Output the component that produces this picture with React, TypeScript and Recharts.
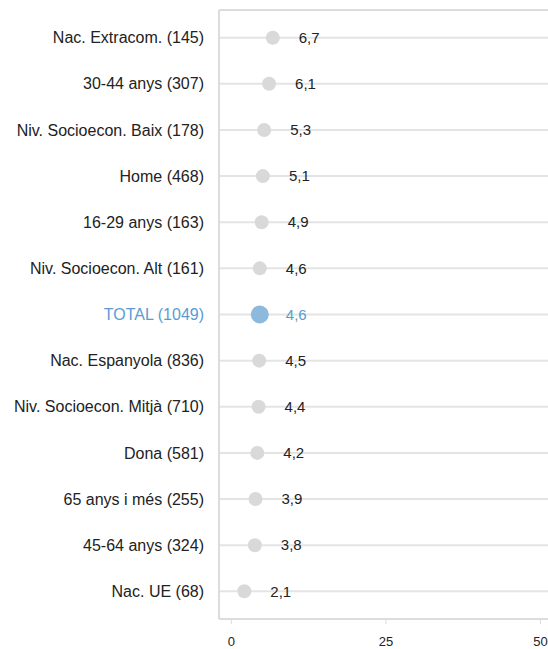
import React from "react";
import {
  ScatterChart,
  Scatter,
  XAxis,
  YAxis,
  CartesianGrid,
  ReferenceLine,
} from "recharts";

const categories = [
  "Nac. Extracom. (145)",
  "30-44 anys (307)",
  "Niv. Socioecon. Baix (178)",
  "Home (468)",
  "16-29 anys (163)",
  "Niv. Socioecon. Alt (161)",
  "TOTAL (1049)",
  "Nac. Espanyola (836)",
  "Niv. Socioecon. Mitjà (710)",
  "Dona (581)",
  "65 anys i més (255)",
  "45-64 anys (324)",
  "Nac. UE (68)",
];

const values = [6.7, 6.1, 5.3, 5.1, 4.9, 4.6, 4.6, 4.5, 4.4, 4.2, 3.9, 3.8, 2.1];

const xTicks = [0, 25, 50];

const totalLabel = "TOTAL (1049)";

const data = categories.map((name, i) => ({
  name,
  idx: i,
  value: values[i],
}));

const rowTicks = categories.map((_, i) => i);

const FONT = "'Liberation Sans', Arial, sans-serif";
const GRID = "#e4e4e4";
const FRAME = "#dcdcdc";
const BLUE = "#5b9bd0";

// y-axis labels, TOTAL row in blue
const CategoryTick = (props: any) => {
  const { x, y, payload } = props;
  const name = categories[payload.value];
  const isTotal = name === totalLabel;
  return (
    <text
      x={x - 7}
      y={y}
      dy="0.35em"
      textAnchor="end"
      fontFamily={FONT}
      fontSize={16}
      fill={isTotal ? BLUE : "#222"}
    >
      {name}
    </text>
  );
};

const DotWithLabel = (props: any) => {
  const { cx, cy, payload } = props;
  const isTotal = payload.name === totalLabel;
  return (
    <g>
      <circle
        cx={cx}
        cy={cy}
        r={isTotal ? 9 : 7}
        fill={isTotal ? "#8dbadc" : "#d9d9d9"}
      />
      <text
        x={cx + 26}
        y={cy}
        dy="0.35em"
        fontFamily={FONT}
        fontSize={15}
        fill={isTotal ? BLUE : "#222"}
      >
        {payload.value.toFixed(1).replace(".", ",")}
      </text>
    </g>
  );
};

export default function App() {
  return (
    <div
      style={{
        position: "absolute",
        left: 0,
        top: 0,
        width: 548,
        height: 649,
        overflow: "hidden",
        background: "#fff",
      }}
    >
      <ScatterChart
        width={560}
        height={649}
        margin={{ top: 10, right: 1, bottom: 0, left: 0 }}
      >
        <CartesianGrid vertical={false} stroke={GRID} strokeWidth={2} />
        <XAxis
          type="number"
          dataKey="value"
          domain={[-2, 53]}
          ticks={xTicks}
          allowDataOverflow
          height={30}
          axisLine={{ stroke: FRAME, strokeWidth: 2 }}
          tickLine={{ stroke: FRAME }}
          tickSize={5}
          tickMargin={13}
          tick={{ fontFamily: FONT, fontSize: 13, fill: "#222" }}
        />
        <YAxis
          type="number"
          dataKey="idx"
          domain={[-0.6, 12.6]}
          ticks={rowTicks}
          reversed
          allowDataOverflow
          width={219}
          interval={0}
          axisLine={{ stroke: FRAME, strokeWidth: 2 }}
          tickLine={false}
          tick={<CategoryTick />}
        />
        <ReferenceLine y={-0.6} stroke={FRAME} strokeWidth={2} />
        <Scatter
          data={data}
          shape={<DotWithLabel />}
          isAnimationActive={false}
        />
      </ScatterChart>
    </div>
  );
}
